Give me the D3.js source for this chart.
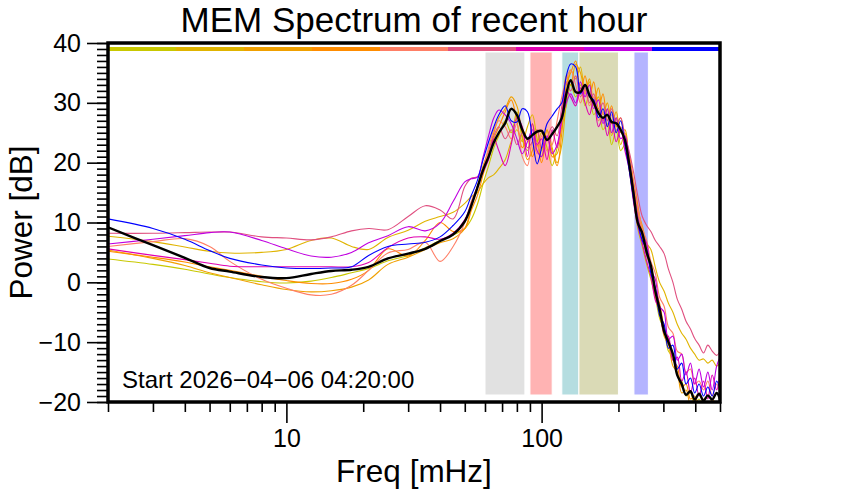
<!DOCTYPE html>
<html>
<head>
<meta charset="utf-8">
<script src="https://cdn.jsdelivr.net/npm/d3@7"></script>
<style>
  body { margin: 0; background: #fff; }
  text { font-family: "Liberation Sans", Arial, Helvetica, sans-serif; }
</style>
</head>
<body>
<div id="chart"></div>
<script>
// frequency grid [mHz] shared by every spectrum
var freqs = [2, 3, 4, 5, 6, 8, 10, 12.5, 15, 18, 21, 25, 30, 35, 40, 45,
    50, 53, 56, 59, 62, 65, 68, 72, 76, 80, 84, 88, 92, 96, 100, 105, 110, 115, 120, 125,
    130, 136, 142, 148, 154, 160, 167, 174, 181, 188, 196, 204, 212, 220, 229,
    238, 248, 258, 268, 279, 290, 302, 314, 327, 340, 354, 368, 383, 398, 414, 431, 448, 466, 485, 500]

// one spectrum per slice of the hour, oldest first (power in dB)
var spec1 = [3.9, 3.0, 2.2, 1.4, 0.8, 0.1, -0.1, 0.2, 0.8, 1.6, 2.3, 3.6, 4.5, 5.8, 7.0, 7.9,
    9.0, 10.5, 13.0, 16.5, 19.5, 22.5, 24.5, 27.0, 25.0, 28.5, 24.0, 22.0, 26.5, 23.5, 25.0, 22.5, 19.5, 22.5, 26.0, 29.5,
    33.0, 31.0, 33.0, 29.5, 31.5, 28.0, 29.0, 25.5, 26.5, 23.0, 25.5, 22.0, 23.0, 19.0, 14.0,
    9.0, 6.0, 3.0, 0.5, -2.5, -6.0, -8.0, -11.5, -12.5, -15.5, -16.5, -19.0, -18.5, -20.5, -19.5, -21.0, -20.0, -21.0, -20.0, -21.0]
var spec2 = [7.7, 6.8, 5.9, 5.2, 4.9, 5.0, 5.5, 7.0, 7.4, 6.0, 5.5, 7.5, 8.7, 10.2, 11.0, 11.7,
    13.2, 14.3, 15.0, 16.5, 17.5, 18.0, 19.0, 20.5, 23.5, 25.5, 23.5, 26.0, 28.0, 24.0, 21.0, 25.5, 22.5, 20.0, 23.0, 30.5,
    35.5, 34.0, 36.0, 31.5, 33.5, 29.5, 31.0, 27.0, 29.0, 24.5, 27.5, 23.0, 25.0, 21.0, 16.0,
    12.0, 9.5, 6.5, 5.5, 2.5, 0.0, -1.5, -3.5, -5.0, -7.0, -8.5, -9.5, -11.0, -12.0, -13.0, -12.8, -13.5, -13.0, -14.0, -13.5]
var spec3 = [5.4, 4.0, 2.8, 1.6, 0.8, -0.4, -1.2, -1.6, -1.4, -0.8, 0.4, 3.0, 4.2, 5.5, 6.6, 7.3,
    9.0, 12.5, 16.0, 19.5, 22.0, 25.0, 27.5, 29.0, 31.0, 29.5, 24.5, 20.5, 22.0, 25.5, 22.0, 25.5, 21.0, 21.5, 27.5, 34.5,
    33.0, 36.5, 35.0, 32.0, 34.0, 30.0, 32.5, 28.0, 30.0, 26.5, 28.5, 25.0, 25.5, 20.0, 16.0,
    11.5, 7.5, 4.5, 2.0, -2.5, -5.0, -9.0, -10.5, -14.0, -15.0, -18.5, -18.0, -20.5, -19.5, -21.0, -19.8, -21.0, -20.0, -21.0, -20.5]
var spec4 = [5.2, 4.2, 3.4, 2.6, 2.0, 1.0, 0.3, -0.2, -0.2, 0.5, 2.0, 5.6, 4.4, 7.0, 10.0, 8.5,
    9.0, 12.0, 14.5, 18.0, 21.0, 24.0, 26.0, 28.5, 30.5, 27.0, 22.5, 24.0, 21.0, 23.0, 20.0, 24.0, 22.0, 19.5, 25.0, 33.0,
    35.0, 37.0, 32.0, 34.5, 31.0, 33.5, 29.0, 31.5, 27.0, 29.5, 26.0, 27.5, 23.0, 21.5, 17.0,
    13.0, 8.5, 6.0, 3.0, -1.0, -3.5, -7.5, -9.5, -13.0, -14.0, -17.5, -17.0, -19.5, -19.0, -20.5, -19.5, -21.0, -19.5, -20.5, -20.0]
var spec5 = [6.0, 6.8, 7.3, 6.0, 3.5, 0.5, -1.0, -2.1, -2.0, -0.5, 2.0, 4.9, 5.5, 6.7, 3.5, 6.0,
    10.0, 13.5, 16.0, 19.0, 22.5, 25.5, 27.0, 26.0, 24.0, 26.5, 21.0, 19.5, 23.5, 21.5, 24.5, 22.0, 23.0, 27.0, 31.0, 34.0,
    35.5, 33.0, 30.0, 32.0, 29.5, 31.0, 27.0, 28.5, 26.0, 28.0, 25.5, 26.0, 23.5, 21.0, 16.5,
    12.5, 9.0, 7.0, 3.5, 1.5, -2.5, -4.0, -7.5, -8.5, -11.5, -12.0, -15.0, -14.5, -17.0, -16.5, -18.0, -16.5, -19.0, -17.0, -18.5]
var spec6 = [8.2, 8.2, 8.3, 8.4, 8.4, 7.6, 7.4, 7.1, 7.6, 8.6, 9.0, 8.8, 11.0, 12.8, 12.1, 10.6,
    16.0, 17.4, 17.6, 18.8, 21.5, 24.5, 26.0, 24.0, 25.5, 23.0, 25.0, 22.5, 23.5, 25.5, 22.5, 24.0, 26.0, 24.5, 29.5, 33.5,
    32.0, 34.5, 31.0, 32.5, 30.0, 31.5, 28.5, 30.0, 27.0, 29.0, 26.5, 27.5, 24.5, 22.0, 18.5,
    14.5, 11.0, 9.5, 8.5, 7.0, 6.0, 4.8, 2.2, 0.0, -2.8, -4.5, -6.5, -7.8, -9.4, -10.5, -11.8, -10.5, -11.5, -12.2, -11.5]
var spec7 = [5.6, 4.5, 3.8, 3.2, 2.7, 2.6, 2.6, 2.6, 2.6, 2.6, 3.3, 5.8, 7.4, 7.6, 7.2, 8.2,
    10.5, 13.0, 16.0, 18.5, 20.5, 24.0, 22.0, 19.5, 23.0, 27.5, 26.0, 21.0, 26.5, 23.0, 24.0, 20.5, 25.5, 22.5, 28.0, 32.0,
    31.0, 29.5, 32.5, 30.0, 28.0, 30.5, 26.0, 27.5, 24.5, 27.0, 23.5, 25.5, 22.0, 19.0, 13.5,
    9.5, 6.5, 3.5, 1.0, -3.0, -4.5, -8.5, -9.0, -13.0, -12.5, -16.5, -15.0, -18.5, -16.0, -19.0, -16.5, -19.5, -15.5, -18.0, -15.0]
var spec8 = [6.4, 7.2, 7.8, 8.3, 8.4, 7.0, 5.6, 4.4, 4.2, 5.0, 6.6, 7.8, 9.3, 8.6, 9.9, 13.5,
    16.8, 17.3, 17.6, 21.0, 24.5, 27.5, 28.8, 28.0, 26.5, 24.0, 21.5, 23.5, 25.5, 22.0, 21.0, 24.5, 21.5, 23.0, 27.0, 30.0,
    31.5, 30.0, 33.5, 31.0, 33.0, 29.0, 30.5, 26.5, 29.0, 25.0, 27.5, 24.0, 24.5, 20.5, 15.5,
    11.0, 8.0, 6.5, 2.0, 0.5, -4.0, -5.0, -9.5, -9.0, -13.0, -12.0, -15.5, -13.5, -17.0, -14.5, -17.5, -15.0, -18.0, -14.0, -12.5]
var spec9 = [10.6, 9.0, 7.2, 5.3, 4.0, 2.9, 2.4, 2.3, 2.4, 2.6, 4.5, 6.0, 6.4, 6.7, 7.6, 9.5,
    11.8, 14.5, 17.0, 20.5, 23.5, 26.0, 28.0, 29.5, 27.0, 26.8, 29.0, 28.5, 24.0, 19.8, 22.5, 26.5, 27.8, 29.0, 30.0, 34.5,
    36.5, 36.0, 31.5, 33.0, 31.0, 30.5, 27.5, 29.0, 26.0, 28.5, 25.0, 27.0, 23.0, 19.0, 14.0,
    10.0, 7.0, 5.5, 1.5, -1.0, -5.5, -7.0, -11.0, -10.5, -14.5, -13.5, -17.0, -16.0, -18.5, -17.0, -19.0, -17.5, -19.0, -16.5, -18.0]
// mean of the hour
var specMean = [9.2, 6.2, 4.1, 2.4, 1.8, 0.9, 0.7, 1.4, 1.9, 2.1, 2.6, 4.0, 4.8, 5.6, 6.9, 8.0,
    10.2, 12.8, 15.8, 18.8, 21.0, 23.4, 25.0, 26.6, 29.0, 28.0, 25.5, 24.0, 24.6, 25.2, 25.3, 23.8, 24.8, 26.0, 27.5, 31.5,
    33.8, 31.8, 31.8, 33.0, 31.3, 30.0, 28.3, 27.5, 28.0, 26.8, 26.6, 25.5, 23.8, 20.0, 15.0,
    10.0, 8.2, 5.0, 2.8, -1.5, -4.5, -8.2, -10.0, -12.0, -15.5, -17.0, -18.8, -18.2, -19.6, -18.6, -19.8, -18.9, -19.6, -18.5, -19.5]

var seriesNames = ['s1', 's2', 's3', 's4', 's5', 's6', 's7', 's8', 's9']
var seriesValues = [spec1, spec2, spec3, spec4, spec5, spec6, spec7, spec8, spec9]
var seriesColors = ['#c8c800', '#e0b400', '#f0a000', '#ff8c00', '#ff7f66', '#e05080', '#e000b0', '#c000e0', '#0000ff']

// shaded frequency bands [mHz]
var bandLo = [60, 90, 120, 140, 230]
var bandHi = [86, 110, 140, 200, 262]
var bandColors = ['#e1e1e1', '#ffb3b3', '#b5dde0', '#dadab6', '#b4b4ff']

var xMajor = [10, 100]
var xMinor = [2, 3, 4, 5, 6, 7, 8, 9, 20, 30, 40, 50, 60, 70, 80, 90, 200, 300, 400, 500]
var yMajor = [-20, -10, 0, 10, 20, 30, 40]

var titleText = 'MEM Spectrum of recent hour'
var xLabel = 'Freq [mHz]'
var yLabel = 'Power [dB]'
var startText = 'Start 2026\u221204\u221206 04:20:00'

// set dimensions
var W = 842, H = 500
var margin = { top: 43, right: 122, bottom: 98, left: 108 }
var width = W - margin.left - margin.right
var height = H - margin.top - margin.bottom

var x = d3.scaleLog().domain([2, 500]).range([0, width])
var y = d3.scaleLinear().domain([-20, 40]).range([height, 0])

var svg = d3.select('#chart').append('svg')
    .attr('width', W)
    .attr('height', H)

var g = svg.append('g')
    .attr('transform', 'translate(' + margin.left + ',' + margin.top + ')')

g.append('clipPath').attr('id', 'clip')
    .append('rect')
    .attr('width', width)
    .attr('height', height)

// bands
g.append('g').selectAll('rect')
    .data(bandLo)
    .enter().append('rect')
    .attr('x', function (d) { return x(d) })
    .attr('width', function (d, i) { return x(bandHi[i]) - x(d) })
    .attr('y', 9)
    .attr('height', height - 16)
    .style('fill', function (d, i) { return bandColors[i] })
    .style('stroke', '#fff')
    .style('stroke-width', 1)

// spectra
var line = d3.line()
    .x(function (d, i) { return x(freqs[i]) })
    .y(function (d) { return y(d) })
    .curve(d3.curveCatmullRom.alpha(0.5))

var lines = g.append('g').attr('clip-path', 'url(#clip)')
lines.selectAll('path.spec')
    .data(seriesValues)
    .enter().append('path')
    .attr('class', 'spec')
    .attr('d', line)
    .style('fill', 'none')
    .style('stroke', function (d, i) { return seriesColors[i] })
    .style('stroke-width', 1.1)
lines.append('path')
    .datum(specMean)
    .attr('d', line)
    .style('fill', 'none')
    .style('stroke', '#000')
    .style('stroke-width', 2.4)

// colour strip for the time slices
var strip = d3.scaleBand().domain(seriesNames).range([0, width])
g.append('g').selectAll('rect')
    .data(seriesNames)
    .enter().append('rect')
    .attr('x', function (d) { return strip(d) })
    .attr('width', strip.bandwidth() + 0.5)
    .attr('y', 4)
    .attr('height', 4)
    .style('fill', function (d, i) { return seriesColors[i] })

// axes
var yMinorAxis = d3.axisLeft(y).tickValues(d3.range(-20, 41, 1)).tickSize(11).tickFormat('')
var yAxis = d3.axisLeft(y).tickValues(yMajor).tickSize(21).tickPadding(6)
var xMinorAxis = d3.axisBottom(x).tickValues(xMinor).tickSize(10).tickFormat('')
var xAxis = d3.axisBottom(x).tickValues(xMajor).tickSize(21).tickPadding(6).tickFormat(d3.format('d'))

var gy1 = g.append('g').call(yMinorAxis)
var gy = g.append('g').call(yAxis)
var gx1 = g.append('g').attr('transform', 'translate(0,' + height + ')').call(xMinorAxis)
var gx = g.append('g').attr('transform', 'translate(0,' + height + ')').call(xAxis)

;[gy1, gy, gx1, gx].forEach(function (a) {
    a.select('.domain').remove()
    a.selectAll('line').style('stroke', '#000').style('stroke-width', 1.6)
    a.selectAll('text').style('font-size', '25px').style('fill', '#000')
        .style('font-family', '"Liberation Sans", Arial, sans-serif')
})

// box
g.append('rect')
    .attr('width', width)
    .attr('height', height)
    .style('fill', 'none')
    .style('stroke', '#000')
    .style('stroke-width', 3.5)

// texts
g.append('text')
    .attr('x', 14)
    .attr('y', height - 14)
    .style('font-size', '24px')
    .text(startText)

svg.append('text')
    .attr('x', margin.left + width / 2)
    .attr('y', 32)
    .attr('text-anchor', 'middle')
    .style('font-size', '35px')
    .text(titleText)

svg.append('text')
    .attr('x', margin.left + width / 2)
    .attr('y', 482)
    .attr('text-anchor', 'middle')
    .style('font-size', '31.5px')
    .text(xLabel)

svg.append('text')
    .attr('transform', 'translate(32,' + (margin.top + height / 2) + ') rotate(-90)')
    .attr('text-anchor', 'middle')
    .style('font-size', '31.5px')
    .text(yLabel)
</script>
</body>
</html>
